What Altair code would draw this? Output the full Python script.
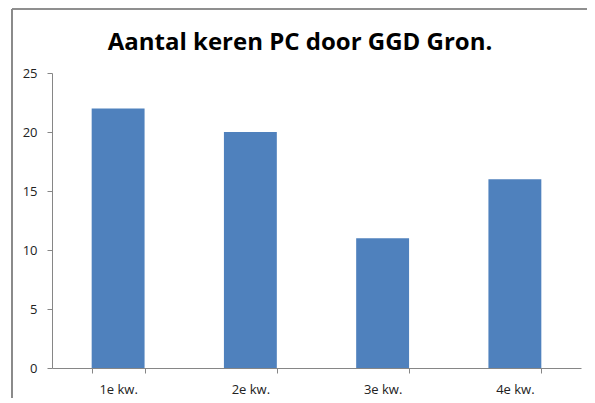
import altair as alt
import pandas as pd

categories = ["1e kw.", "2e kw.", "3e kw.", "4e kw."]
values = [22, 20, 11, 16]
title_text = "Aantal keren PC door GGD Gron."

df = pd.DataFrame({"kwartaal": categories, "aantal": values})

W, H = 529, 295

bars = alt.Chart(df).mark_bar(color="#4F81BD").encode(
    x=alt.X(
        "kwartaal:N",
        sort=categories,
        title=None,
        scale=alt.Scale(paddingInner=0.6, paddingOuter=0.3),
        axis=alt.Axis(
            labelAngle=0,
            tickBand="extent",
            domainColor="#868686",
            tickColor="#868686",
            tickSize=5,
            labelPadding=10,
            labelFont="Open Sans",
            labelFontSize=13,
            labelColor="#222222",
        ),
    ),
    y=alt.Y(
        "aantal:Q",
        title=None,
        scale=alt.Scale(domain=[0, 25], nice=False),
        axis=alt.Axis(
            values=[0, 5, 10, 15, 20, 25],
            grid=False,
            domainColor="#868686",
            tickColor="#868686",
            tickSize=5,
            labelPadding=10,
            labelFont="Open Sans",
            labelFontSize=13,
            labelColor="#222222",
        ),
    ),
)

border_left = alt.Chart(df).mark_rule(color="#888888", strokeWidth=1.2).encode(
    x=alt.value(-40), y=alt.value(-64), y2=alt.value(H + 60)
)
border_top = alt.Chart(df).mark_rule(color="#888888", strokeWidth=1.2).encode(
    x=alt.value(-40), x2=alt.value(W + 60), y=alt.value(-64)
)

title_mark = alt.Chart(pd.DataFrame({"t": [title_text]})).mark_text(
    font="Open Sans",
    fontSize=24,
    fontWeight="bold",
    color="#000000",
    align="center",
    baseline="alphabetic",
).encode(text="t:N", x=alt.value(248), y=alt.value(-23))

chart = (
    alt.layer(border_left, border_top, bars, title_mark)
    .properties(
        width=W,
        height=H,
        autosize=alt.AutoSizeParams(type="none"),
        padding={"left": 44, "top": 65, "right": 6, "bottom": 30},
    )
    .configure_view(stroke=None)
)

chart.save("out.html", embed_options={"renderer": "svg", "actions": False})
